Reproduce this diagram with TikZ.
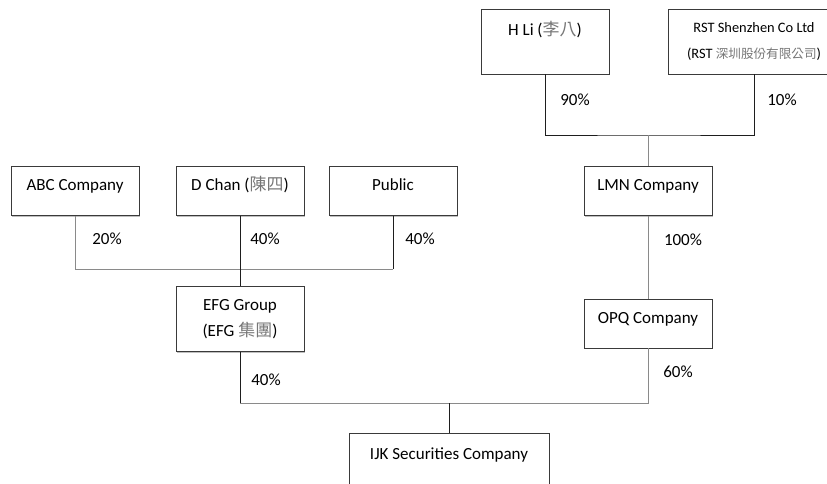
\documentclass[tikz,border=0pt]{standalone}
\usepackage{fontspec}
\setmainfont{Carlito}
\newfontfamily\cjkfont{Noto Sans CJK TC}
\usepackage{tikz}
\usetikzlibrary{positioning, calc, shadows}
\definecolor{boxline}{HTML}{3A3A3A}
\definecolor{linkdark}{HTML}{1E1E1E}
\definecolor{linkgray}{HTML}{8A8A8A}
\definecolor{cjkgray}{HTML}{777777}
\newcommand{\zh}[1]{{\cjkfont\color{cjkgray}#1}}

\begin{document}
\begin{tikzpicture}[
    x=1pt, y=-1pt,
    entity/.style={rectangle, draw=boxline, line width=0.9pt, fill=white, minimum width=#1, inner sep=2pt,
        drop shadow={shadow xshift=1.2pt, shadow yshift=-1.2pt, fill=black!25, opacity=1},
        font=\fontsize{17}{25.5}\selectfont},
    entity/.default=128pt,
    single/.style={entity=#1, minimum height=49pt, text height=11.5pt, text depth=12pt},
    single/.default=128pt,
    double/.style={entity=#1, minimum height=65pt, align=center},
    double/.default=128pt,
    pct/.style={font=\fontsize{17}{20}\selectfont},
    link/.style={draw=linkdark, line width=0.9pt},
    faint/.style={draw=linkgray, line width=0.9pt},
]
\useasboundingbox (0,0) rectangle (827,483);

\node[double] (hli) at (545,41.5) {H Li (\zh{李八})\\ \mbox{}};
\node[double=172pt, font=\fontsize{14.4}{25.5}\selectfont] (rst) at (754,41.5) {RST Shenzhen Co Ltd\\(RST {\fontsize{12.6}{25.5}\selectfont\zh{深圳股份有限公司}})};

\node[single] (abc) at (75,191) {ABC Company};
\node[single] (dchan) at (240,191) {D Chan (\zh{陳四})};
\node[single] (public) at (393,191) {Public};
\node[single] (lmn) at (648,191) {LMN Company};

\node[double] (efg) at (240,319) {EFG Group\\(EFG \zh{集團})};
\node[single] (opq) at (648,323.5) {OPQ Company};

\node[double=200pt] (ijk) at (449,466) {IJK Securities Company\\ \mbox{}};

\coordinate (topjoin) at (lmn.north |- 0,135);
\coordinate (midjoin) at (efg.north |- 0,269);
\coordinate (lowjoin) at (ijk.north |- 0,403);

\draw[link] (hli.south) |- (topjoin) -| (rst.south);
\draw[faint] (topjoin) -- (lmn.north);
\draw[faint] (abc.south) |- (public.south |- midjoin);
\draw[link] (public.south) -- (public.south |- midjoin);
\draw[link] (dchan.south) -- (efg.north);
\draw[faint] (lmn.south) -- (opq.north);
\draw[link] (efg.south) -- (efg.south |- lowjoin);
\draw[faint] (efg.south |- lowjoin) -| (opq.south);
\draw[link] (lowjoin) -- (ijk.north);

\node[pct] (p90) at (575,100) {90\%};
\node[pct] (p10) at (782,100) {10\%};
\node[pct] (p20) at (107,239) {20\%};
\node[pct] (p40a) at (265,239) {40\%};
\node[pct] (p40b) at (420,239) {40\%};
\node[pct] (p100) at (683,240) {100\%};
\node[pct] (p40c) at (266,380) {40\%};
\node[pct] (p60) at (678,372) {60\%};

\end{tikzpicture}
\end{document}
